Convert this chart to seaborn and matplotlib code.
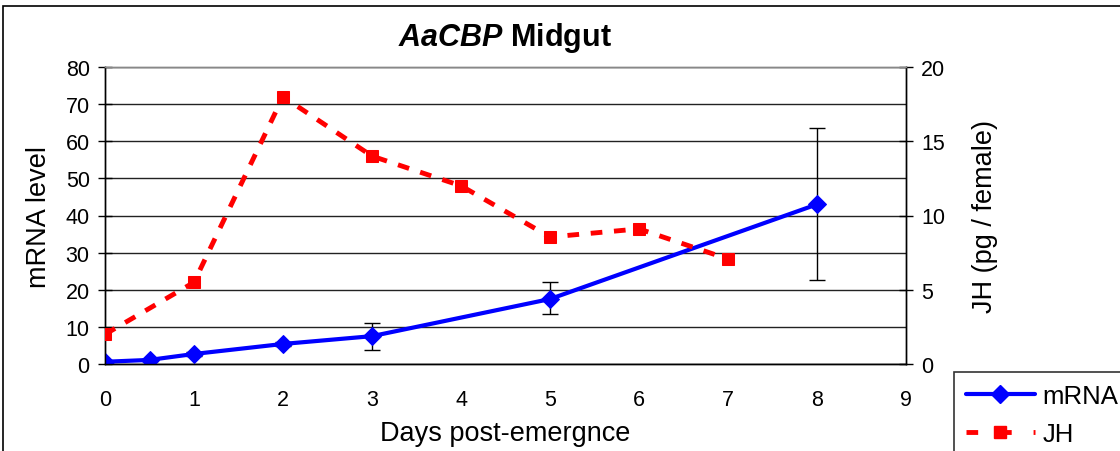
import matplotlib
matplotlib.use("Agg")
import matplotlib.pyplot as plt
import seaborn as sns
import pandas as pd
from matplotlib.patches import Rectangle
from matplotlib.lines import Line2D

mrna_days = [0, 0.5, 1, 2, 3, 5, 8]
mrna_level = [0.6, 1.1, 2.7, 5.4, 7.5, 17.5, 43.0]
mrna_err_low = [0.3, 0.3, 0.5, 0.6, 3.7, 4.0, 20.5]
mrna_err_high = [0.3, 0.3, 0.5, 0.6, 3.5, 4.6, 20.5]
jh_days = [0, 1, 2, 3, 4, 5, 6, 7]
jh_level = [2.0, 5.5, 18.0, 14.0, 12.0, 8.55, 9.1, 7.07]

sns.set_theme(style="white")
plt.rcParams['font.family'] = ['Liberation Sans', 'DejaVu Sans']
plt.rcParams['mathtext.fontset'] = 'custom'
plt.rcParams['mathtext.it'] = 'Liberation Sans:italic:bold'
plt.rcParams['mathtext.rm'] = 'Liberation Sans:bold'
plt.rcParams['text.color'] = 'black'
plt.rcParams['axes.labelcolor'] = 'black'

fig = plt.figure(figsize=(11.2, 4.52), dpi=100)
ax = fig.add_axes([105/1120, 1-365/452, (906-105)/1120, (365-68)/452])
ax2 = ax.twinx()

df_m = pd.DataFrame({"day": mrna_days, "val": mrna_level})
df_j = pd.DataFrame({"day": jh_days, "val": jh_level})

ax.errorbar(mrna_days, mrna_level, yerr=[mrna_err_low, mrna_err_high], fmt='none',
            ecolor='black', elinewidth=1, capsize=6, capthick=1, zorder=2)
sns.lineplot(data=df_m, x="day", y="val", ax=ax, color='#0000FF', lw=3, marker='D',
             markersize=9.5, markeredgecolor='#0000FF', zorder=3)
sns.lineplot(data=df_j, x="day", y="val", ax=ax2, color='#FF0000', lw=3.5, marker='s',
             markersize=9, markeredgecolor='#FF0000', dashes=False, zorder=3)
for l in ax2.get_lines():
    l.set_dashes([2.4, 2.4])

ax.set_xlim(0, 9)
ax.set_ylim(0, 80)
ax2.set_ylim(0, 20)
ax.set_xticks(range(0, 10))
ax.set_yticks(range(0, 81, 10))
ax2.set_yticks(range(0, 21, 5))
ax.yaxis.grid(True, color='#222222', lw=1)
ax.set_axisbelow(True)

for a in (ax, ax2):
    a.spines['top'].set_color('#888888')
    a.spines['top'].set_linewidth(1)
    for s in ('left', 'right', 'bottom'):
        a.spines[s].set_color('black')
        a.spines[s].set_linewidth(1)
    a.tick_params(axis='both', labelsize=15.5, colors='black', labelcolor='black',
                  length=6, width=1, direction='out', pad=4)
ax2.tick_params(axis='y', direction='inout', length=10, pad=6)
ax.tick_params(axis='y', direction='inout', length=10, pad=6)
ax.tick_params(axis='x', pad=12)

ax.set_xlabel("Days post-emergnce", fontsize=19.5, labelpad=7)
ax.set_ylabel("mRNA level", fontsize=19.5, labelpad=10)
ax2.set_ylabel("JH (pg / female)", fontsize=19.5, labelpad=19)
ax.set_title(r"$\mathit{AaCBP}$ Midgut", fontsize=22, fontweight='bold', pad=16,
             color='black')

handles = [Line2D([0], [0], color='#0000FF', lw=3, marker='D', markersize=9.5),
           Line2D([0], [0], color='#FF0000', lw=3.5, marker='s', markersize=9,
                  dashes=[2.4, 4.5])]
leg = fig.legend(handles, ["mRNA", "JH"], loc='upper left',
                 bbox_to_anchor=(954/1120, 1-373/452), borderaxespad=0,
                 fontsize=18.5, frameon=True,
                 fancybox=False, handlelength=2.7, borderpad=0.45, labelspacing=0.55,
                 handletextpad=0.3)
leg.get_frame().set_edgecolor('black')
leg.get_frame().set_linewidth(1.2)

fig.add_artist(Rectangle((3/1120, -0.2), 1.5, 1.2 - 7/452, transform=fig.transFigure,
                         fill=False, lw=1.2, edgecolor='black'))

fig.savefig("out.png", dpi=100)
